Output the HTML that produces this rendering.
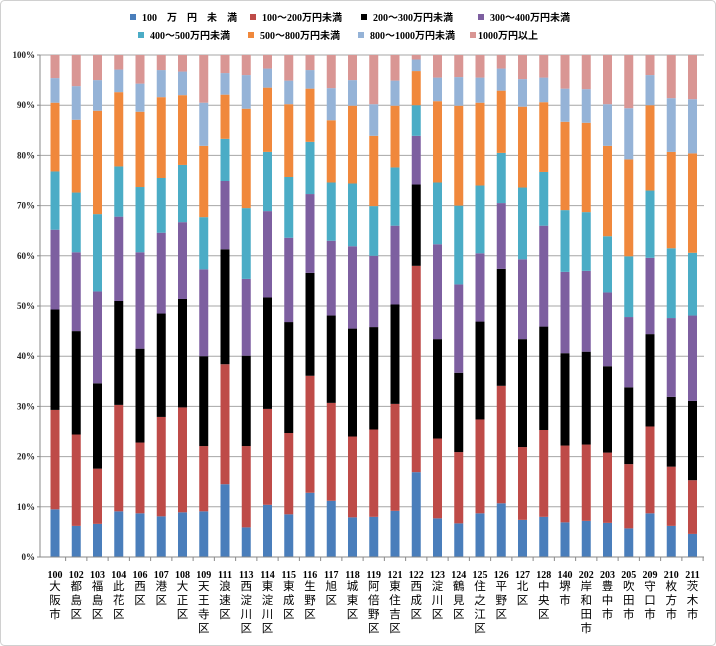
<!DOCTYPE html>
<html><head><meta charset="utf-8">
<style>
html,body{margin:0;padding:0;background:#fff;}
svg{display:block;}
text{font-family:"Liberation Serif","Noto Sans CJK JP",serif;}
</style></head>
<body>
<svg id="c" width="716" height="646" xmlns="http://www.w3.org/2000/svg"></svg>
<script>
const data=[
["100","大阪市",[9.5,29.3,49.3,65.2,76.8,90.5,95.4]],
["102","都島区",[6.2,24.4,45.0,60.7,72.6,87.1,93.8]],
["103","福島区",[6.6,17.6,34.6,52.9,68.3,88.9,95.0]],
["104","此花区",[9.1,30.3,51.0,67.8,77.8,92.6,97.1]],
["106","西区",[8.7,22.8,41.5,60.7,73.7,88.7,94.3]],
["107","港区",[8.1,27.9,48.5,64.6,75.5,91.6,97.0]],
["108","大正区",[8.9,29.8,51.4,66.7,78.1,92.0,96.7]],
["109","天王寺区",[9.1,22.1,40.0,57.3,67.7,81.9,90.5]],
["111","浪速区",[14.5,38.4,61.3,74.9,83.3,92.1,96.4]],
["113","西淀川区",[5.9,22.1,40.1,55.4,69.5,89.3,96.0]],
["114","東淀川区",[10.4,29.5,51.7,68.9,80.7,93.5,97.3]],
["115","東成区",[8.5,24.7,46.8,63.6,75.7,90.2,94.9]],
["116","生野区",[12.8,36.1,56.6,72.3,82.7,93.3,97.0]],
["117","旭区",[11.2,30.7,48.1,63.0,74.6,87.0,93.4]],
["118","城東区",[7.9,24.0,45.5,61.9,74.4,89.9,95.0]],
["119","阿倍野区",[8.0,25.4,45.8,60.0,69.9,83.9,90.2]],
["121","東住吉区",[9.2,30.5,50.3,66.0,77.6,89.9,94.9]],
["122","西成区",[16.9,58.0,74.2,83.9,90.0,96.8,99.1]],
["123","淀川区",[7.7,23.6,43.4,62.3,74.6,90.8,95.5]],
["124","鶴見区",[6.7,20.9,36.7,54.3,70.0,89.9,95.6]],
["125","住之江区",[8.7,27.4,46.9,60.5,74.0,90.5,95.5]],
["126","平野区",[10.7,34.1,57.4,70.5,80.5,92.9,97.3]],
["127","北区",[7.4,21.9,43.4,59.3,73.6,89.7,95.2]],
["128","中央区",[8.0,25.3,45.9,66.0,76.7,90.6,95.5]],
["140","堺市",[6.9,22.2,40.6,56.8,69.1,86.7,93.3]],
["202","岸和田市",[7.2,22.4,40.9,57.0,68.7,86.5,93.2]],
["203","豊中市",[6.8,20.8,38.0,52.7,63.9,81.9,90.2]],
["205","吹田市",[5.7,18.5,33.8,47.8,59.9,79.2,89.4]],
["209","守口市",[8.7,26.0,44.4,59.6,73.0,90.0,96.0]],
["210","枚方市",[6.2,18.0,31.9,47.6,61.5,80.7,91.4]],
["211","茨木市",[4.6,15.3,31.1,48.1,60.6,80.4,91.2]]
];
const cols=["#4a7ebb","#be4b48","#000000","#7d5fa0","#4bacc6","#f0883c","#95b3d7","#d99694"];
const Y0=557,H=502,X0=55,DX=21.25,W=9;
let s='';
s+='<rect x="0.5" y="0.5" width="715" height="645" rx="4" fill="#fff" stroke="#d0d0d0"/>';
for(let i=0;i<=10;i++){const y=Y0-H*i/10;
 s+=`<line x1="40" x2="704" y1="${y}" y2="${y}" stroke="#a6a6a6" stroke-width="1"/>`;
 s+=`<line x1="37" x2="40" y1="${y}" y2="${y}" stroke="#888"/>`;
 s+=`<text x="35" y="${y+3}" font-size="9" font-weight="bold" text-anchor="end" fill="#222">${i*10}%</text>`;}
s+=`<line x1="40" x2="40" y1="${Y0-H}" y2="${Y0}" stroke="#888"/>`;
data.forEach((d,i)=>{
 const cx=X0+DX*i;const v=[0,...d[2],100];
 for(let k=0;k<8;k++){const y1=Y0-H*v[k]/100,y2=Y0-H*v[k+1]/100;
  s+=`<rect x="${cx-W/2}" y="${y2}" width="${W}" height="${y1-y2}" fill="${cols[k]}"/>`;}
 s+=`<line x1="${cx+DX/2}" x2="${cx+DX/2}" y1="${Y0}" y2="${Y0+4}" stroke="#888"/>`;
 s+=`<text x="${cx}" y="${578}" font-size="10" font-weight="bold" text-anchor="middle" fill="#000">${d[0]}</text>`;
 [...d[1]].forEach((ch,j)=>{s+=`<text x="${cx}" y="${590+14*j}" font-size="11.5" text-anchor="middle" fill="#000" font-family="Noto Sans CJK JP,sans-serif">${ch}</text>`;});
});
s+=`<line x1="40" x2="704" y1="${Y0}" y2="${Y0}" stroke="#888"/>`;
const leg=[[130,21,"100　万　円　未　満"],[250,21,"100～200万円未満"],[361,21,"200～300万円未満"],[478,21,"300～400万円未満"],
[138,39,"400～500万円未満"],[248,39,"500～800万円未満"],[358,39,"800～1000万円未満"],[470,39,"1000万円以上"]];
leg.forEach((l,k)=>{s+=`<rect x="${l[0]}" y="${l[1]-7}" width="6" height="6" fill="${cols[k]}"/>`;
 s+=`<text x="${l[0]+(k==7?8:12)}" y="${l[1]}" font-size="10" font-weight="bold" fill="#000">${l[2]}</text>`;});
document.getElementById('c').innerHTML=s;
</script>
</body></html>
